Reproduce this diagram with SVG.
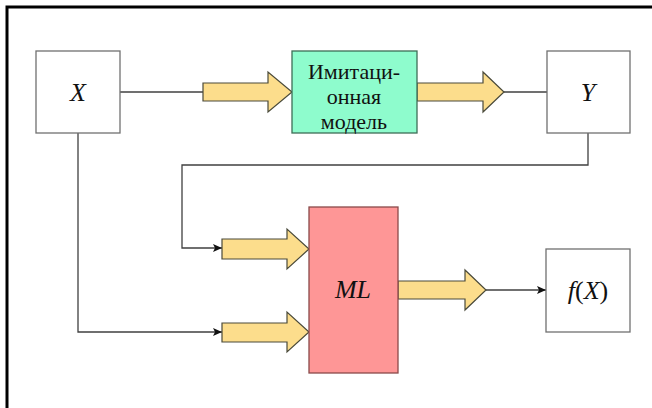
<svg xmlns="http://www.w3.org/2000/svg" width="652" height="408" viewBox="0 0 652 408">
<style>
.box{fill:#fff;stroke:#707070;stroke-width:1.3}
.barrow{fill:#fcdd8c;stroke:#4a4a3a;stroke-width:1.2;stroke-linejoin:miter}
.line{fill:none;stroke:#404040;stroke-width:1.3}
.lbl{font-style:italic;font-size:26px;fill:#111;text-anchor:middle}
.rus{font-size:22px;fill:#111;text-anchor:middle}
</style>
<defs>
<marker id="ah" markerWidth="10" markerHeight="8" refX="9" refY="4" orient="auto" markerUnits="userSpaceOnUse">
<path d="M0,0 L9,4 L0,8 L2,4 Z" fill="#111"/>
</marker>
</defs>
<rect x="0" y="0" width="652" height="408" fill="#fff"/>
<rect x="7" y="7" width="660" height="420" fill="none" stroke="#000" stroke-width="3"/>

<g id="connectors">
<path class="line" d="M120,92 H203"/>
<path class="line" d="M504,92 H547"/>
<path class="line" d="M588,133 V165 H182 V248 H222" marker-end="url(#ah)"/>
<path class="line" d="M78,133 V332 H222" marker-end="url(#ah)"/>
<path class="line" d="M486,290 H546" marker-end="url(#ah)"/>
<path class="barrow" d="M203,83 H268 V72 L292,92 L268,112 V101 H203 Z"/>
<path class="barrow" d="M417,83 H483 V72 L504,92 L483,112 V101 H417 Z"/>
<path class="barrow" d="M222,239 H287 V229 L309,249 L287,269 V259 H222 Z"/>
<path class="barrow" d="M222,323 H287 V312 L309,332 L287,352 V342 H222 Z"/>
<path class="barrow" d="M398,281 H465 V270 L486,290 L465,310 V299 H398 Z"/>
</g>

<g font-family="Liberation Serif, DejaVu Serif, serif">
<g id="nodeX">
<rect class="box" x="36" y="51" width="84" height="82"/>
<text class="lbl" x="78" y="101">X</text>
</g>
<g id="nodeSim">
<rect x="292" y="51" width="125" height="82" fill="#8efccd" stroke="#3e6e56" stroke-width="1.3"/>
<text class="rus" x="354" y="79">Имитаци-</text>
<text class="rus" x="354" y="104">онная</text>
<text class="rus" x="354" y="129">модель</text>
</g>
<g id="nodeY">
<rect class="box" x="547" y="51" width="83" height="82"/>
<text class="lbl" x="588" y="101">Y</text>
</g>
<g id="nodeML">
<rect x="309" y="207" width="89" height="166" fill="#fe9696" stroke="#8a4a4a" stroke-width="1.3"/>
<text class="lbl" x="353" y="298">ML</text>
</g>
<g id="nodeF">
<rect class="box" x="546" y="249" width="84" height="83"/>
<text class="lbl" x="588" y="299" style="font-style:normal"><tspan font-style="italic">f</tspan>(<tspan font-style="italic">X</tspan>)</text>
</g>
</g>
</svg>
